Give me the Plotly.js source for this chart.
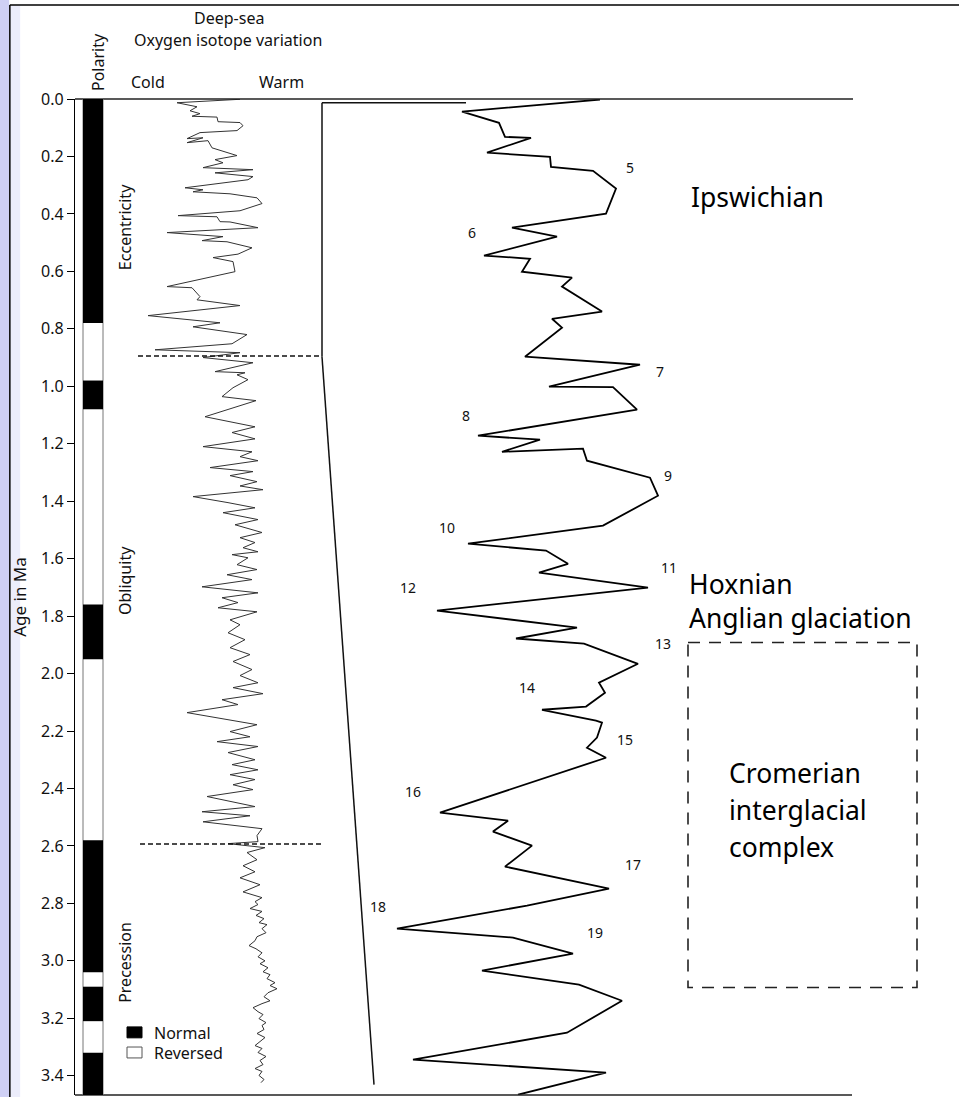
<!DOCTYPE html>
<html>
<head>
<meta charset="utf-8">
<script src="https://cdn.plot.ly/plotly-3.0.1.min.js"></script>
<style>
  html, body { margin: 0; padding: 0; background: #ffffff; }
  #chart { width: 959px; height: 1097px; }
</style>
</head>
<body>
<div id="chart"></div>
<script>
// ---------- DATA ----------
// Deep-sea oxygen isotope record (left curve): age in Ma, relative warmth (cold -> warm)
const isoAge = [0.001,0.013,0.027,0.041,0.051,0.060,0.063,0.079,0.082,0.093,0.110,0.117,0.138,0.135,0.152,0.145,0.170,0.197,0.211,0.222,0.239,0.246,0.257,0.270,0.281,0.309,0.316,0.323,0.330,0.344,0.364,0.389,0.406,0.410,0.427,0.428,0.448,0.465,0.479,0.493,0.497,0.518,0.540,0.552,0.566,0.601,0.653,0.657,0.688,0.699,0.719,0.754,0.779,0.793,0.820,0.852,0.873,0.883,0.900,0.918,0.949,0.953,0.960,0.977,1.005,1.036,1.050,1.106,1.141,
1.161,1.183,1.210,1.228,1.245,1.259,1.283,1.297,1.311,1.332,1.347,1.360,1.384,1.405,1.423,1.440,1.464,1.482,1.509,1.527,1.544,1.562,1.576,1.586,1.597,1.621,1.638,1.656,1.673,1.698,1.719,1.736,1.753,1.771,1.785,1.813,1.830,1.858,1.882,1.910,1.934,1.958,1.986,
2.007,2.032,2.049,2.070,2.091,2.108,2.136,2.178,2.202,2.220,2.237,2.254,2.275,2.300,2.317,2.335,2.352,2.369,2.387,2.404,2.428,2.463,2.481,2.495,2.516,2.540,2.564,2.585,2.592,2.606,2.623,2.648,2.669,2.690,2.711,2.735,2.760,2.780,
2.794,2.804,2.818,2.828,2.842,2.853,2.867,2.874,2.888,2.902,2.916,2.930,2.947,2.958,2.972,2.986,3.000,3.010,3.024,3.038,3.048,3.062,3.076,3.086,3.097,3.111,3.125,3.139,3.149,3.163,3.177,3.187,3.201,3.215,3.225,3.239,3.253,3.267,3.281,3.295,3.305,3.319,3.333,3.347,3.361,3.375,3.385,3.399,3.413,3.424];
const isoValue = [165,102,122,115,125,117,142,143,165,168,162,125,112,128,112,133,137,162,140,148,128,178,140,178,173,110,128,118,155,182,187,165,103,142,145,155,183,92,148,127,152,177,163,138,158,160,92,117,125,122,165,73,145,118,172,157,80,165,128,178,140,170,162,173,158,147,181,130,180,
157,180,128,177,165,183,135,178,155,182,165,188,118,153,180,148,183,160,187,165,180,168,183,157,173,162,182,152,177,127,183,147,163,143,182,155,165,153,170,155,175,158,177,
165,183,158,188,147,163,112,182,155,175,142,183,153,180,157,183,155,180,158,178,132,180,127,175,128,187,182,183,153,190,172,182,168,180,165,185,168,187,
180,183,175,187,181,189,184,192,187,191,182,180,174,181,187,183,190,185,193,188,195,192,200,195,202,193,189,195,187,178,183,188,184,191,187,189,182,190,185,180,187,183,191,185,188,180,187,184,189,186];

// Expanded record of the last glacial cycles (right curve) with marine isotope stages
const misAge = [0.002,0.044,0.083,0.132,0.135,0.187,0.201,0.236,0.250,0.312,0.399,0.448,0.479,0.545,0.556,0.601,0.622,0.653,0.740,0.765,0.796,0.897,0.925,1.001,1.003,1.081,1.172,1.186,1.228,1.217,1.259,1.318,1.381,1.485,1.548,1.572,1.618,1.649,1.701,1.781,1.840,1.878,1.896,1.966,2.032,2.067,2.115,2.126,2.164,2.171,2.223,2.258,2.293,2.484,2.512,2.550,2.599,2.672,2.749,2.808,2.888,2.919,2.975,3.034,3.083,3.139,3.250,3.344,3.389,3.466];
const misValue = [525,387,424,430,456,412,475,476,518,541,531,437,482,409,455,447,497,487,527,477,487,450,565,474,538,562,403,465,427,508,512,575,583,528,393,471,493,464,573,362,502,441,509,563,524,530,511,467,521,527,522,512,531,365,433,418,457,430,534,452,322,438,498,407,504,547,492,338,531,443];

const misLabels = ['5','6','7','8','9','10','11','12','13','14','15','16','17','18','19'];
const misLabelAge = [0.237,0.463,0.950,1.100,1.309,1.490,1.632,1.702,1.894,2.050,2.228,2.412,2.666,2.812,2.903];
const misLabelPos = [555,397,585,391,593,372,594,333,588,452,550,338,558,303,520];

// Geomagnetic polarity: normal intervals (Ma)
const normalStart = [0.00, 0.98, 1.76, 2.58, 3.09, 3.32];
const normalEnd   = [0.78, 1.08, 1.95, 3.04, 3.21, 3.58];

const ageTicks = [0.0,0.2,0.4,0.6,0.8,1.0,1.2,1.4,1.6,1.8,2.0,2.2,2.4,2.6,2.8,3.0,3.2,3.4];
const ageTickText = ageTicks.map(v => v.toFixed(1));

// Climate-forcing regimes and stage names
const regimeNames = ['Eccentricity','Obliquity','Precession'];
const regimeAge = [0.446, 1.678, 3.007];
const regimeBoundaries = [0.895, 2.593];

// ---------- FIGURE ----------
const FONT = '"Noto Sans", "Open Sans", "DejaVu Sans", sans-serif';
const ink = '#111111';

const traces = [
  { x: isoValue, y: isoAge, type: 'scatter', mode: 'lines',
    line: { color: '#333333', width: 1 }, hoverinfo: 'skip', showlegend: false },
  { x: misValue, y: misAge, type: 'scatter', mode: 'lines',
    line: { color: '#000000', width: 1.8 }, hoverinfo: 'skip', showlegend: false }
];

const shapes = [];
// left lavender strip and frame
shapes.push({ type: 'rect', xref: 'paper', yref: 'paper', x0: -0.0849, x1: -0.0745, y0: -0.01, y1: 1.1, fillcolor: '#cfd0f5', line: { width: 0 }, layer: 'below' });
shapes.push({ type: 'rect', xref: 'paper', yref: 'paper', x0: -0.0745, x1: -0.062, y0: -0.01, y1: 1.094, fillcolor: '#ecedfb', line: { width: 0 }, layer: 'below' });
shapes.push({ type: 'line', xref: 'paper', yref: 'paper', x0: -0.0737, x1: -0.0737, y0: -0.01, y1: 1.0944, line: { color: '#000', width: 1.5 } });
shapes.push({ type: 'line', xref: 'paper', yref: 'paper', x0: -0.0737, x1: 1.01, y0: 1.0944, y1: 1.0944, line: { color: '#000', width: 1.5 } });
// top and bottom lines of the panel
shapes.push({ type: 'line', xref: 'x', yref: 'paper', x0: 0, x1: 778, y0: 1, y1: 1, line: { color: '#222', width: 1.5 } });
shapes.push({ type: 'line', xref: 'x', yref: 'paper', x0: 0, x1: 777, y0: 0, y1: 0, line: { color: '#222', width: 1.5 } });
// polarity column
shapes.push({ type: 'rect', xref: 'x', yref: 'paper', x0: 8, x1: 28, y0: 0, y1: 1, fillcolor: '#ffffff', line: { color: '#777', width: 1 } });
normalStart.forEach((s, i) => {
  shapes.push({ type: 'rect', xref: 'x', yref: 'y', x0: 8, x1: 28, y0: s, y1: normalEnd[i], fillcolor: '#000', line: { width: 0 } });
});
// regime boundaries (dashed)
regimeBoundaries.forEach((a, i) => {
  shapes.push({ type: 'line', xref: 'x', yref: 'y', x0: i === 0 ? 63 : 65, x1: 247, y0: a, y1: a, line: { color: '#111', width: 1.5, dash: '5px,3px' } });
});
// bracket linking the expanded record
shapes.push({ type: 'line', xref: 'x', yref: 'y', x0: 247, x1: 391, y0: 0.013, y1: 0.013, line: { color: '#111', width: 1.5 } });
shapes.push({ type: 'line', xref: 'x', yref: 'y', x0: 247, x1: 247, y0: 0.013, y1: 0.897, line: { color: '#111', width: 1.5 } });
shapes.push({ type: 'line', xref: 'x', yref: 'y', x0: 247, x1: 299, y0: 0.897, y1: 3.431, line: { color: '#111', width: 1.5 } });
// Cromerian dashed box
shapes.push({ type: 'rect', xref: 'x', yref: 'y', x0: 613, x1: 842, y0: 1.892, y1: 3.093, line: { color: '#222', width: 1.6, dash: '12px,9px' } });
// legend swatches
shapes.push({ type: 'rect', xref: 'x', yref: 'y', x0: 52, x1: 67, y0: 3.230, y1: 3.268, fillcolor: '#000', line: { color: '#000', width: 1 } });
shapes.push({ type: 'rect', xref: 'x', yref: 'y', x0: 52, x1: 67, y0: 3.300, y1: 3.338, fillcolor: '#fff', line: { color: '#555', width: 1 } });

const annotations = [];
const txt = (o) => Object.assign({ showarrow: false, xanchor: 'center', yanchor: 'middle',
  font: { family: FONT, size: 16, color: ink } }, o);
annotations.push(txt({ text: 'Deep-sea', xref: 'x', yref: 'paper', x: 154, y: 1.0813 }));
annotations.push(txt({ text: 'Oxygen isotope variation', xref: 'x', yref: 'paper', x: 153, y: 1.0592 }));
annotations.push(txt({ text: 'Polarity', xref: 'x', yref: 'paper', x: 23, y: 1.0371, textangle: -90 }));
annotations.push(txt({ text: 'Cold', xref: 'x', yref: 'paper', x: 73, y: 1.0171 }));
annotations.push(txt({ text: 'Warm', xref: 'x', yref: 'paper', x: 206, y: 1.0171 }));
regimeNames.forEach((n, i) => annotations.push(txt({ text: n, xref: 'x', yref: 'y', x: 50, y: regimeAge[i], textangle: -90 })));
annotations.push(txt({ text: 'Normal', xref: 'x', yref: 'y', x: 77, y: 3.251, xanchor: 'left' }));
annotations.push(txt({ text: 'Reversed', xref: 'x', yref: 'y', x: 77, y: 3.321, xanchor: 'left' }));
misLabels.forEach((l, i) => annotations.push(txt({ text: l, xref: 'x', yref: 'y', x: misLabelPos[i], y: misLabelAge[i], font: { family: FONT, size: 14, color: ink } })));
const big = { family: FONT, size: 26.5, color: '#000' };
annotations.push(txt({ text: 'Ipswichian', xref: 'x', yref: 'y', x: 614, y: 0.341, xanchor: 'left', font: big }));
annotations.push(txt({ text: 'Hoxnian<br>Anglian glaciation', xref: 'x', yref: 'y', x: 612, y: 1.748, xanchor: 'left', align: 'left', font: { family: FONT, size: 26.5, color: '#000' } }));
annotations.push(txt({ text: 'Cromerian', xref: 'x', yref: 'y', x: 652, y: 2.346, xanchor: 'left', font: big }));
annotations.push(txt({ text: 'interglacial', xref: 'x', yref: 'y', x: 652, y: 2.475, xanchor: 'left', font: big }));
annotations.push(txt({ text: 'complex', xref: 'x', yref: 'y', x: 652, y: 2.604, xanchor: 'left', font: big }));

const layout = {
  width: 959, height: 1097,
  margin: { l: 75, r: 0, t: 99, b: 2 },
  paper_bgcolor: '#ffffff', plot_bgcolor: '#ffffff',
  showlegend: false,
  font: { family: FONT, color: ink },
  xaxis: { range: [0, 884], visible: false, fixedrange: true },
  yaxis: {
    range: [3.467, 0], tickvals: ageTicks, ticktext: ageTickText,
    ticks: 'outside', ticklen: 7, tickwidth: 1, tickcolor: '#000',
    showline: true, linecolor: '#000', linewidth: 1.2,
    showgrid: false, zeroline: false,
    tickfont: { family: FONT, size: 16, color: ink },
    title: { text: 'Age in Ma', font: { family: FONT, size: 17, color: ink }, standoff: 10 },
    fixedrange: true
  },
  shapes: shapes,
  annotations: annotations
};

Plotly.newPlot('chart', traces, layout, { staticPlot: true, displayModeBar: false });
</script>
</body>
</html>
